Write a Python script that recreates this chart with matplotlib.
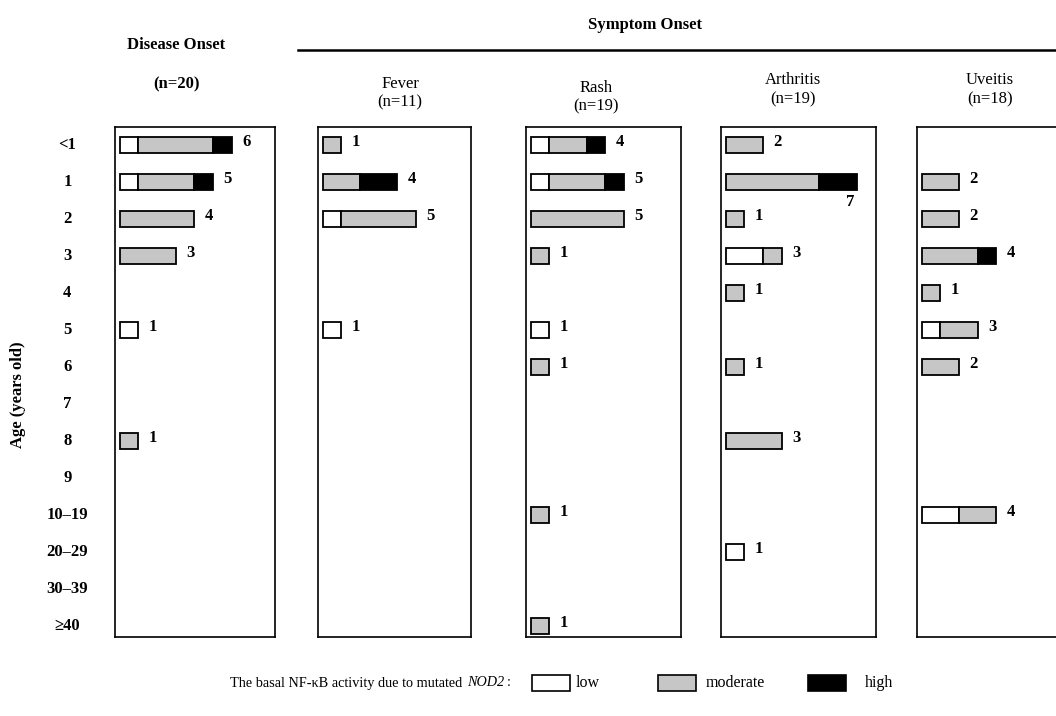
import matplotlib
matplotlib.use("Agg")
import matplotlib.pyplot as plt
from matplotlib.patches import Rectangle
import numpy as np

plt.rcParams['font.family'] = ['Liberation Serif', 'DejaVu Serif']

ages = ["<1", "1", "2", "3", "4", "5", "6", "7", "8", "9",
        "10–19", "20–29", "30–39", "≥40"]

panel_titles = ["(n=20)", "Fever\n(n=11)", "Rash\n(n=19)", "Arthritis\n(n=19)", "Uveitis\n(n=18)"]

# counts per age group: low, moderate, high
disease_low  = [1, 1, 0, 0, 0, 1, 0, 0, 0, 0, 0, 0, 0, 0]
disease_mod  = [4, 3, 4, 3, 0, 0, 0, 0, 1, 0, 0, 0, 0, 0]
disease_high = [1, 1, 0, 0, 0, 0, 0, 0, 0, 0, 0, 0, 0, 0]

fever_low  = [0, 0, 1, 0, 0, 1, 0, 0, 0, 0, 0, 0, 0, 0]
fever_mod  = [1, 2, 4, 0, 0, 0, 0, 0, 0, 0, 0, 0, 0, 0]
fever_high = [0, 2, 0, 0, 0, 0, 0, 0, 0, 0, 0, 0, 0, 0]

rash_low  = [1, 1, 0, 0, 0, 1, 0, 0, 0, 0, 0, 0, 0, 0]
rash_mod  = [2, 3, 5, 1, 0, 0, 1, 0, 0, 0, 1, 0, 0, 1]
rash_high = [1, 1, 0, 0, 0, 0, 0, 0, 0, 0, 0, 0, 0, 0]

arth_low  = [0, 0, 0, 2, 0, 0, 0, 0, 0, 0, 0, 1, 0, 0]
arth_mod  = [2, 5, 1, 1, 1, 0, 1, 0, 3, 0, 0, 0, 0, 0]
arth_high = [0, 2, 0, 0, 0, 0, 0, 0, 0, 0, 0, 0, 0, 0]

uve_low  = [0, 0, 0, 0, 0, 1, 0, 0, 0, 0, 2, 0, 0, 0]
uve_mod  = [0, 2, 2, 3, 1, 2, 2, 0, 0, 0, 2, 0, 0, 0]
uve_high = [0, 0, 0, 1, 0, 0, 0, 0, 0, 0, 0, 0, 0, 0]

panels = [
    (disease_low, disease_mod, disease_high),
    (fever_low, fever_mod, fever_high),
    (rash_low, rash_mod, rash_high),
    (arth_low, arth_mod, arth_high),
    (uve_low, uve_mod, uve_high),
]

C_LOW, C_MOD, C_HIGH = "white", "#c6c6c6", "black"

W, H = 1056, 716
fig = plt.figure(figsize=(W / 100, H / 100), dpi=100)

# pixel layout
box_top, box_bot = 127, 637
lefts = [115, 318, 526, 721, 917]
widths = [160, 153, 155, 155, 155]
unit_px = 18.7

def fx(px):
    return px / W

def fy(py):
    return 1 - py / H

row_top_margin = 0.48
row_bot_margin = 0.30
nrows = len(ages)

axes = []
for i, (lo, mo, hi) in enumerate(panels):
    ax = fig.add_axes([fx(lefts[i]), fy(box_bot), widths[i] / W, (box_bot - box_top) / H])
    xmax = widths[i] / unit_px - 0.25
    ax.set_xlim(-0.25, xmax)
    ax.set_ylim(nrows - 1 + row_bot_margin, -row_top_margin)
    y = np.arange(nrows)
    lo = np.array(lo); mo = np.array(mo); hi = np.array(hi)
    kw = dict(height=0.42, edgecolor="black", linewidth=1.3)
    m = lo > 0
    ax.barh(y[m], lo[m], left=0, color=C_LOW, **kw)
    m = mo > 0
    ax.barh(y[m], mo[m], left=lo[m], color=C_MOD, **kw)
    m = hi > 0
    ax.barh(y[m], hi[m], left=(lo + mo)[m], color=C_HIGH, **kw)
    tot = lo + mo + hi
    for r in range(nrows):
        if tot[r] > 0:
            if i == 3 and tot[r] == 7:
                ax.text(tot[r] - 0.1, r + 0.55, str(tot[r]), ha="right", va="center",
                        fontsize=12, fontweight="bold")
            else:
                ax.text(tot[r] + 0.55, r - 0.08, str(tot[r]), ha="left", va="center",
                        fontsize=12, fontweight="bold")
    ax.set_xticks([])
    ax.set_yticks([])
    for s in ax.spines.values():
        s.set_linewidth(1.2)
    if i == 4:
        ax.spines["right"].set_visible(False)
    axes.append(ax)

# y tick labels (age groups)
ax0 = axes[0]
for r, lab in enumerate(ages):
    ax0.text(-2.8, r, lab, ha="center", va="center", fontsize=12, fontweight="bold")

fig.text(fx(18), fy(395), "Age (years old)", rotation=90, ha="center", va="center",
         fontsize=12, fontweight="bold")

# panel titles
fig.text(fx(176), fy(45), "Disease Onset", ha="center", va="center", fontsize=12, fontweight="bold")
fig.text(fx(176), fy(84), "(n=20)", ha="center", va="center", fontsize=12, fontweight="bold")
fig.text(fx(645), fy(25), "Symptom Onset", ha="center", va="center", fontsize=12, fontweight="bold")
fig.add_artist(plt.Line2D([fx(298), fx(1056)], [fy(50), fy(50)], color="black", linewidth=1.8,
                          transform=fig.transFigure))
title_y = [None, 93, 97, 90, 90]
centers = [None, 400, 596, 793, 990]
for i in range(1, 5):
    fig.text(fx(centers[i]), fy(title_y[i]), panel_titles[i], ha="center", va="center",
             fontsize=12, linespacing=1.25)

# legend
fig.canvas.draw()
renderer = fig.canvas.get_renderer()
LFS = 10.3
t1 = fig.text(fx(230), fy(683), "The basal NF-κB activity due to mutated", ha="left", va="center",
              fontsize=LFS)
bb = t1.get_window_extent(renderer)
t2 = fig.text((bb.x1 + 5) / W, fy(683), "NOD2", ha="left", va="center", fontsize=LFS, style="italic")
bb2 = t2.get_window_extent(renderer)
fig.text((bb2.x1 + 2) / W, fy(683), ":", ha="left", va="center", fontsize=LFS)
leg = [(532, C_LOW, "low", 576), (658, C_MOD, "moderate", 706), (808, C_HIGH, "high", 865)]
for x0, c, lab, tx in leg:
    fig.add_artist(Rectangle((fx(x0), fy(691)), 38 / W, 16 / H, facecolor=c, edgecolor="black",
                             linewidth=1.2, transform=fig.transFigure))
    fig.text(fx(tx), fy(683), lab, ha="left", va="center", fontsize=11.5)

fig.savefig("out.png", dpi=100)
